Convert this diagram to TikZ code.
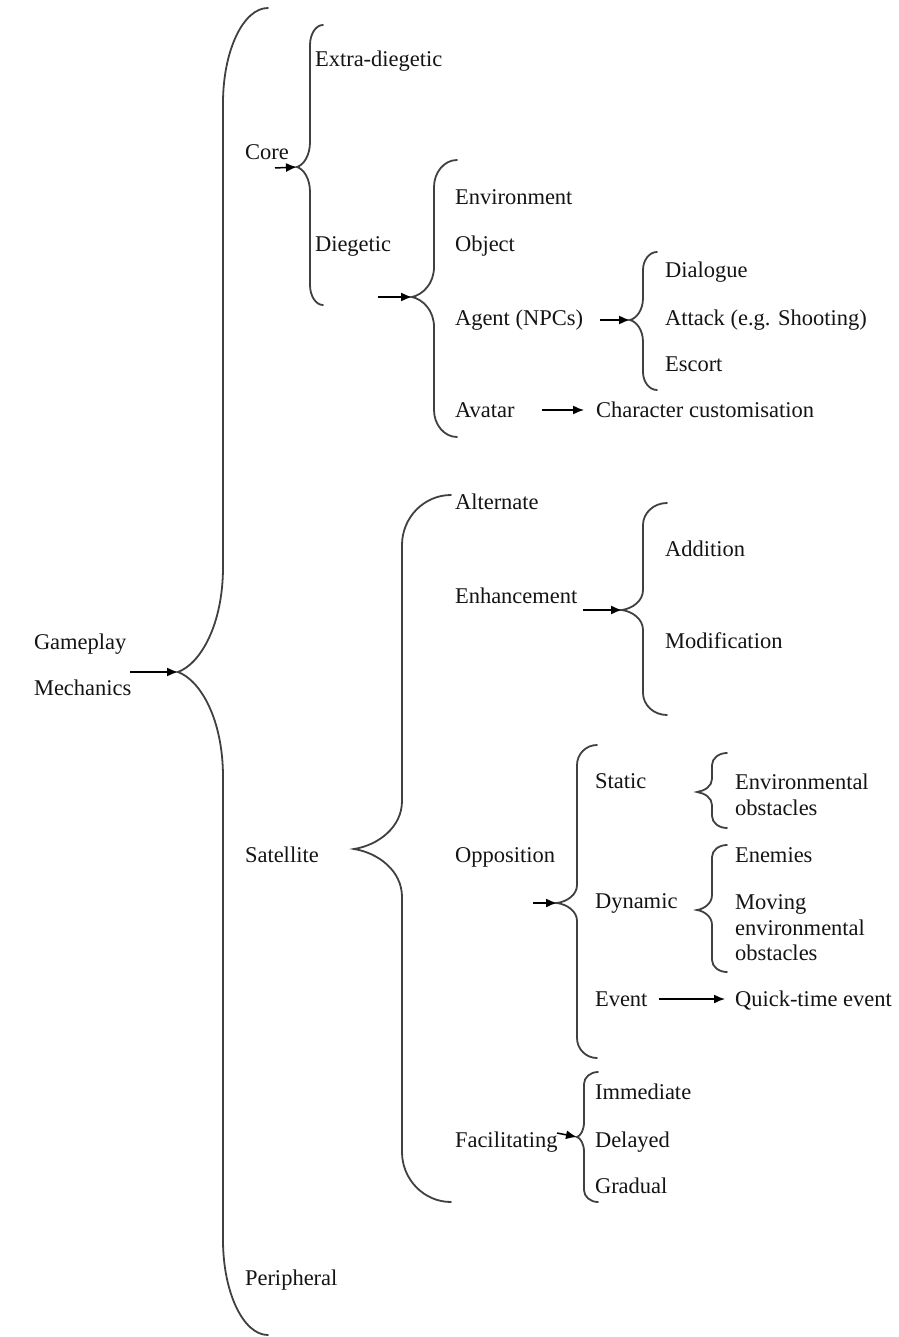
\documentclass[tikz,border=0pt]{standalone}
\usepackage{fontspec}
\setmainfont{Liberation Serif}
\usetikzlibrary{arrows.meta}
% #1 name, #2 xtip, #3 ytip, #4 xline, #5 xend, #6 ytop, #7 ybot, #8 rend, #9 rtip
\newcommand{\cbrace}[9]{%
  \coordinate (#1) at (#2,#3);
  \draw[brace] (#5,#6) .. controls ({#4+(#5-#4)*0.45},#6) and (#4,{#6+#8*0.45}) .. (#4,{#6+#8})
   -- (#4,{#3-#9}) .. controls (#4,{#3-#9*0.45}) and ({#2+(#4-#2)*0.5},{#3-#9*0.08}) .. (#1)
   .. controls ({#2+(#4-#2)*0.5},{#3+#9*0.08}) and (#4,{#3+#9*0.45}) .. (#4,{#3+#9})
   -- (#4,{#7-#8}) .. controls (#4,{#7-#8*0.45}) and ({#4+(#5-#4)*0.45},#7) .. (#5,#7);}
\begin{document}
\begin{tikzpicture}[x=1pt,y=-1pt,
  lbl/.style={anchor=west,inner sep=0pt,outer sep=0pt,text height=16pt,text depth=2pt,
    font=\fontsize{22.5}{26}\selectfont,text=black!92},
  brace/.style={line width=1.8pt,draw=black!75,line cap=round},
  arr/.style={line width=1.5pt,draw=black,-{Latex[length=11pt,width=9pt]}}]
\fill[white] (0,0) rectangle (898,1337);
\useasboundingbox (0,0) rectangle (898,1337);

% braces
\cbrace{tA}{178}{672}{223}{268}{8}{1335}{95}{105}
\cbrace{tB}{297}{167}{310}{323}{25}{305}{20}{25}
\cbrace{tC}{412}{297}{434}{457}{160}{437}{27}{30}
\cbrace{tD}{630}{320}{643}{657}{252}{390}{18}{22}
\cbrace{tE}{354}{849}{402}{451}{495}{1202}{50}{48}
\cbrace{tF}{622}{610}{643}{667}{503}{715}{22}{20}
\cbrace{tG}{557}{903}{577}{597}{745}{1058}{20}{18}
\cbrace{tH}{697}{792}{712}{727}{753}{828}{12}{13}
\cbrace{tI}{697}{910}{712}{727}{845}{972}{12}{15}
\cbrace{tJ}{577}{1137}{584}{598}{1072}{1202}{12}{15}

% labels
\node[lbl] (gm1) at (34,642) {Gameplay};
\node[lbl] (gm2) at (34,688) {Mechanics};
\node[lbl] (core) at (245,153) {Core};
\node[lbl] (extra) at (315,60) {Extra-diegetic};
\node[lbl] (dieg) at (315,245) {Diegetic};
\node[lbl] (env) at (455,198) {Environment};
\node[lbl] (obj) at (455,245) {Object};
\node[lbl] (agent) at (455,318) {Agent (NPCs)};
\node[lbl] (avatar) at (455,410) {Avatar};
\node[lbl] (charc) at (596,410) {Character customisation};
\node[lbl] (dial) at (665,271) {Dialogue};
\node[lbl] (attack) at (665,318) {Attack (e.g. Shooting)};
\node[lbl] (escort) at (665,364) {Escort};
\node[lbl] (sat) at (245,855) {Satellite};
\node[lbl] (alt) at (455,502) {Alternate};
\node[lbl] (enh) at (455,596) {Enhancement};
\node[lbl] (add) at (665,549) {Addition};
\node[lbl] (mod) at (665,641) {Modification};
\node[lbl] (opp) at (455,855) {Opposition};
\node[lbl] (static) at (595,781) {Static};
\node[lbl] (dyn) at (595,901) {Dynamic};
\node[lbl] (event) at (595,999) {Event};
\node[lbl] (qte) at (735,999) {Quick-time event};
\node[lbl] (envobs1) at (735,782) {Environmental};
\node[lbl] (envobs2) at (735,808) {obstacles};
\node[lbl] (enem) at (735,855) {Enemies};
\node[lbl] (mov1) at (735,902) {Moving};
\node[lbl] (mov2) at (735,928) {environmental};
\node[lbl] (mov3) at (735,953) {obstacles};
\node[lbl] (fac) at (455,1140) {Facilitating};
\node[lbl] (imm) at (595,1092) {Immediate};
\node[lbl] (del) at (595,1140) {Delayed};
\node[lbl] (grad) at (595,1186) {Gradual};
\node[lbl] (peri) at (245,1278) {Peripheral};

% arrows
\coordinate (sA) at (130,672);
\coordinate (sB) at (275,168);
\coordinate (sC) at (378,297);
\coordinate (sD) at (600,320);
\coordinate (sF) at (583,610);
\coordinate (sG) at (533,903);
\coordinate (sJ) at (557,1133);
\draw[arr] (sA) -- (tA);
\draw[arr] (sB) -- (tB);
\draw[arr] (sC) -- (tC);
\draw[arr] (sD) -- (tD);
\draw[arr] (sF) -- (tF);
\draw[arr] (sG) -- (tG);
\draw[arr] (sJ) -- (tJ);
\draw[arr,shorten <=27pt,shorten >=12pt] (avatar.east) -- (charc.west);
\draw[arr,shorten <=12pt,shorten >=10pt] (event.east) -- (qte.west);
\end{tikzpicture}
\end{document}
